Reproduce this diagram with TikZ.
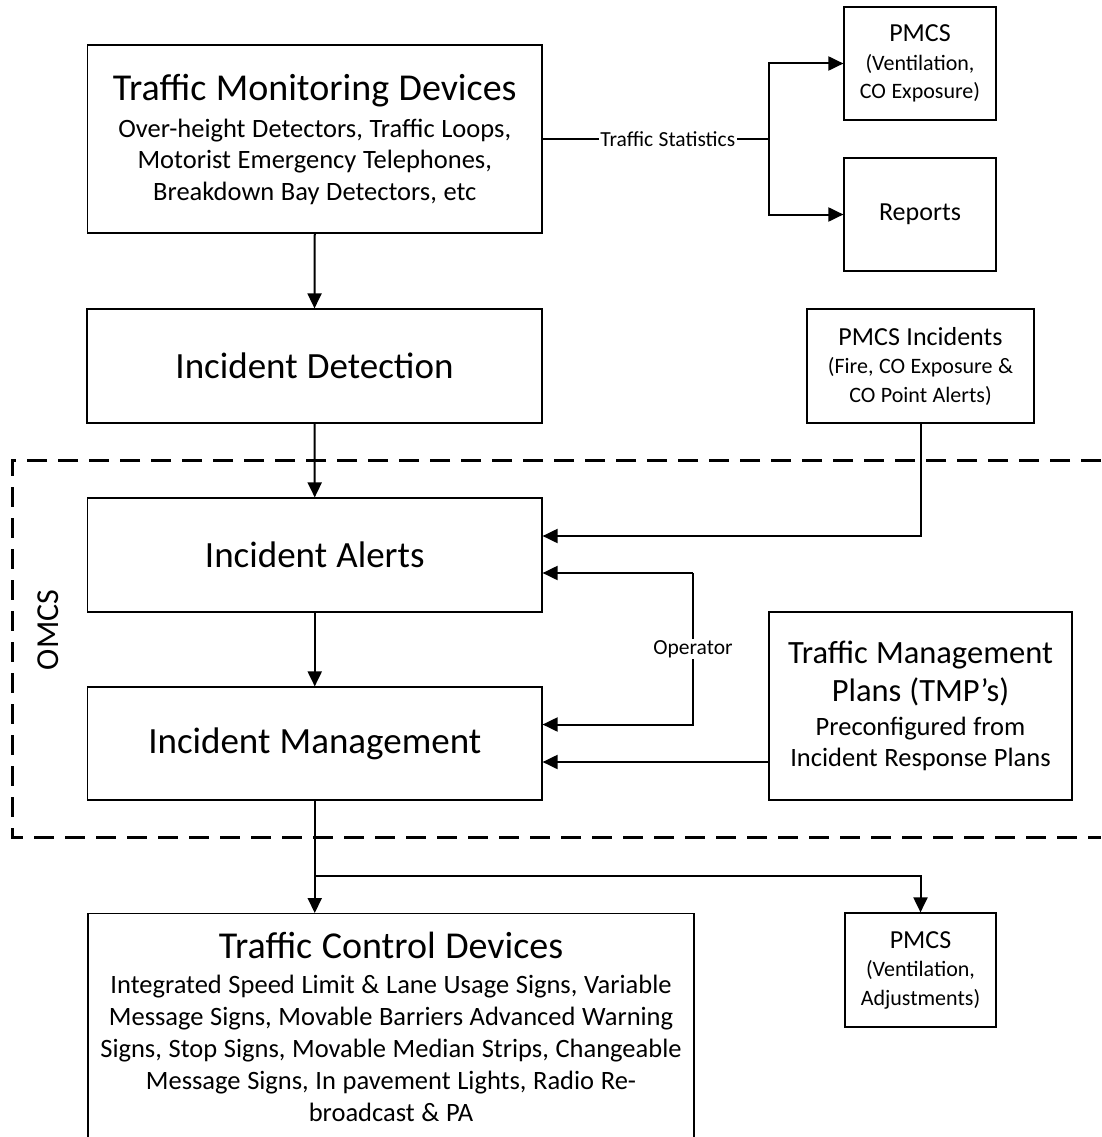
\documentclass[tikz,border=0pt]{standalone}
\usepackage{fontspec}
\setmainfont{Carlito}
\usetikzlibrary{arrows.meta,calc}

% word gap set explicitly for every size
\newcommand\wgap{\spaceskip=0.25em\relax\xspaceskip=0.25em\relax}

% type sizes used in the chart
\newcommand\fTitle{\fontsize{38}{40}\selectfont\wgap}
\newcommand\fBig{\fontsize{37}{40}\selectfont\wgap}
\newcommand\fSub{\fontsize{26.5}{31.5}\selectfont\wgap}
\newcommand\fSubT{\fontsize{26.5}{32}\selectfont\wgap}
\newcommand\fPlanT{\fontsize{32.5}{38}\selectfont\wgap}
\newcommand\fPlanS{\fontsize{26.5}{31}\selectfont\wgap}
\newcommand\fSmallT{\fontsize{26}{28}\selectfont\wgap}
\newcommand\fSmallS{\fontsize{22}{28.5}\selectfont\wgap}
\newcommand\fLab{\fontsize{21.5}{24}\selectfont\wgap}
\newcommand\fOmcs{\fontsize{32}{36}\selectfont\wgap}

\begin{document}
\begin{tikzpicture}[x=1pt,y=1pt,
  box/.style={draw=black, line width=1.2pt, inner sep=0pt, align=center},
  conn/.style={line width=2pt},
  arr/.style={conn, -{Triangle[length=15pt,width=14pt]}},
  lab/.style={fill=white, inner sep=1.5pt, font=\fLab},
  omcsline/.style={line width=3pt, dash pattern=on 20pt off 11pt}]
\useasboundingbox (0,0) rectangle (1101,-1137);

% OMCS boundary (open on the right)
\draw[omcsline] (1101,-460) -- (12,-460) -- (12,-837) -- (1101,-837);
\node[font=\fOmcs, rotate=90] (omcs) at (48,-630) {OMCS};

% main column
\node[box, minimum width=454.5pt, minimum height=188pt, text width=454.5pt] (tmd) at (314.75,-139)
  {\fTitle Traffic Monitoring Devices\par\vspace{5.5pt}\fSub Over-height Detectors, Traffic Loops,\par Motorist Emergency Telephones,\par Breakdown Bay Detectors, etc\par};
\node[box, minimum width=455pt, minimum height=114pt, font=\fBig] (id) at (314.5,-366) {Incident Detection};
\node[box, minimum width=454.5pt, minimum height=114pt, font=\fBig] (ia) at (314.75,-555) {Incident Alerts};
\node[box, minimum width=454.5pt, minimum height=113pt, font=\fBig] (im) at (314.75,-743.5) {Incident Management};
\node[box, anchor=north, inner ysep=19pt, text width=606pt] (tcd) at (391,-913)
  {\fTitle Traffic Control Devices\par\vspace{3pt}\fSubT Integrated Speed Limit \& Lane Usage Signs, Variable\par Message Signs, Movable Barriers Advanced Warning\par Signs, Stop Signs, Movable Median Strips, Changeable\par Message Signs, In pavement Lights, Radio Re-\par broadcast \& PA\par};

% right column
\node[box, minimum width=152pt, minimum height=113pt, text width=152pt] (pmcs1) at (920,-63.5)
  {\fSmallT PMCS\par\fSmallS (Ventilation,\par CO Exposure)\par};
\node[box, minimum width=152pt, minimum height=113pt, font=\fSmallT] (reports) at (920,-214.5) {Reports};
\node[box, minimum width=227pt, minimum height=114pt, text width=227pt] (pmcsinc) at (920.5,-366)
  {\fSmallT PMCS Incidents\par\fSmallS (Fire, CO Exposure \&\par CO Point Alerts)\par};
\node[box, minimum width=303pt, minimum height=188pt, text width=303pt] (tmp) at (920.5,-706)
  {\fPlanT Traffic Management\par Plans (TMP’s)\par\vspace{3pt}\fPlanS Preconfigured from\par Incident Response Plans\par};
\node[box, minimum width=151pt, minimum height=114pt, text width=151pt] (pmcs2) at (920.5,-970)
  {\fSmallT PMCS\par\fSmallS (Ventilation,\par Adjustments)\par};

% junction points
\coordinate (tsb) at (769,-139);
\coordinate (opx) at (693,0);
\coordinate (split) at (0,-876);
\coordinate (iapm) at ([yshift=19pt]ia.east);
\coordinate (iaop) at ([yshift=-18pt]ia.east);
\coordinate (imop) at ([yshift=19pt]im.east);
\coordinate (imtp) at ([yshift=-18.5pt]im.east);

% connectors
\draw[arr] (tmd.south) -- (id.north);
\draw[arr] (id.south) -- (ia.north);
\draw[arr] (ia.south) -- (im.north);
\draw[conn] (tmd.east) -- node[lab, pos=0.553] {Traffic Statistics} (tsb);
\draw[arr] (tsb) |- (pmcs1.west);
\draw[arr] (tsb) |- (reports.west);
\draw[arr] (pmcsinc.south) |- (iapm);
\draw[arr] (iaop -| opx) -- (iaop);
\draw[arr] (iaop -| opx) -- node[lab] {Operator} (imop -| opx) -- (imop);
\draw[arr] (tmp.west |- imtp) -- (imtp);
\draw[arr] (im.south) -- (im.south |- tcd.north);
\draw[arr] (im.south |- split) -| (pmcs2.north);
\end{tikzpicture}
\end{document}
